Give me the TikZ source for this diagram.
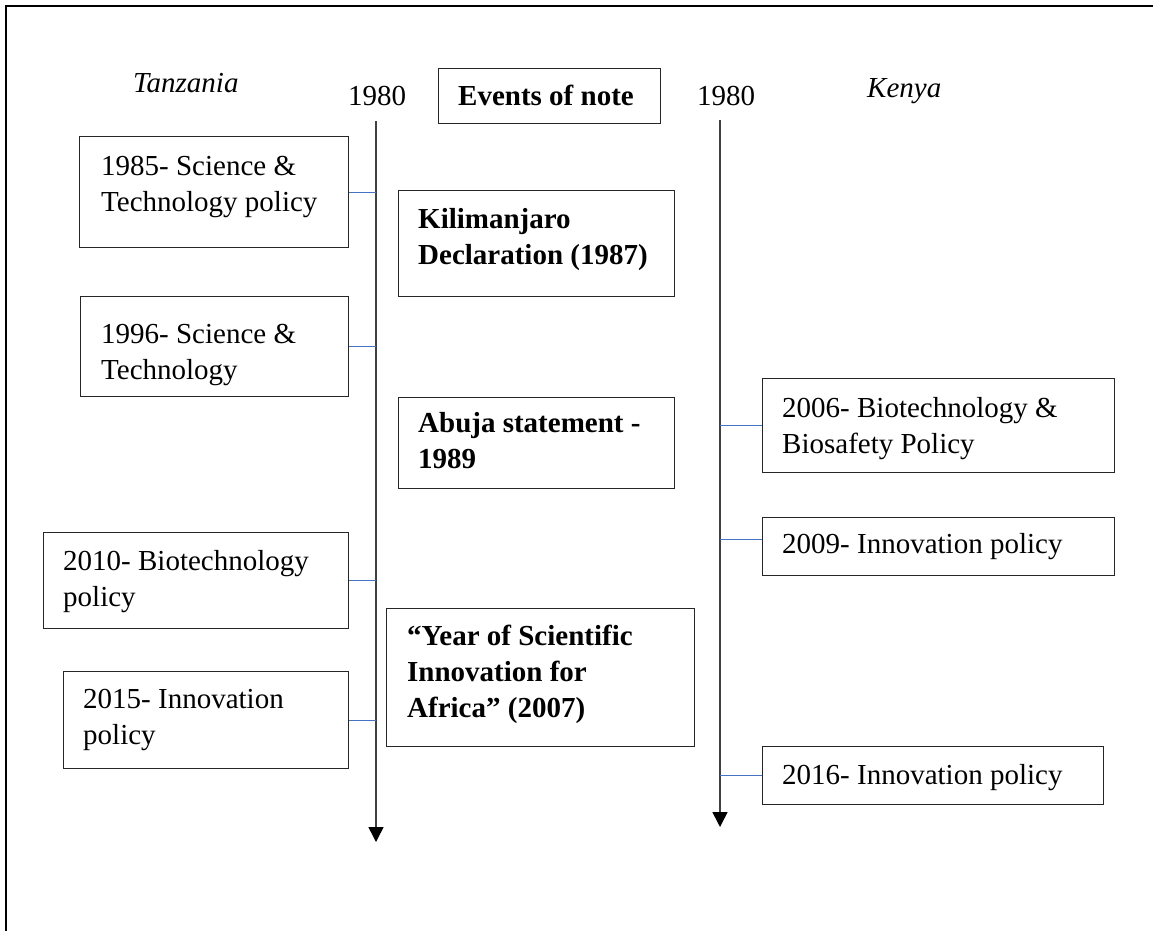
\documentclass[tikz,border=0pt]{standalone}
\usepackage{fontspec}
\setmainfont{Liberation Serif}
\usetikzlibrary{arrows.meta}
\definecolor{tickblue}{RGB}{68,114,196}
\definecolor{axisgray}{RGB}{64,64,64}
% multi-line text whose reference point is the first baseline
\newcommand\boxlines[1]{\begin{tabular}[t]{@{}l@{}}#1\end{tabular}}
\begin{document}
\begin{tikzpicture}[x=1pt,y=-1pt,
  every node/.style={font=\fontsize{29}{36}\selectfont, inner sep=0pt},
  evbox/.style={draw=black!85, line width=1.3pt, anchor=north west},
  txt/.style={anchor=base west},
  axis/.style={draw=axisgray, line width=1.5pt,
    -{Triangle[width=15pt,length=15pt,color=black,fill=black]}},
  tick/.style={draw=tickblue, line width=1.2pt}]
\useasboundingbox (0,0) rectangle (1153,930);
% outer frame
\draw[line width=2pt] (5.5,940) -- (5.5,6) -- (1165,6);

% headings
\node[txt, font=\fontsize{29}{36}\selectfont\itshape] (tzlabel) at (133,92) {Tanzania};
\node[txt, font=\fontsize{29}{36}\selectfont\itshape] (kelabel) at (867,97) {Kenya};
\node[txt] (tzyear) at (348,105) {1980};
\node[txt] (keyear) at (697,105) {1980};
\node[evbox, minimum width=222, minimum height=55] (events) at (438,68) {};
\node[txt, font=\fontsize{29}{36}\selectfont\bfseries] (eventsT) at (458,105) {Events of note};

% time axes
\coordinate (tztop) at (376,121);
\coordinate (tzend) at (376,842);
\coordinate (ketop) at (720,120);
\coordinate (keend) at (720,827);
\draw[axis] (tztop) -- (tzend);
\draw[axis] (ketop) -- (keend);

% Tanzania policies
\node[evbox, minimum width=269, minimum height=111] (b85) at (79,136) {};
\node[txt] (b85T) at (101,175) {\boxlines{1985- Science \&\\Technology policy}};
\node[evbox, minimum width=268, minimum height=100] (b96) at (80,296) {};
\node[txt] (b96T) at (101,343) {\boxlines{1996- Science \&\\Technology}};
\node[evbox, minimum width=305, minimum height=96] (b10) at (43,532) {};
\node[txt] (b10T) at (63,570) {\boxlines{2010- Biotechnology\\policy}};
\node[evbox, minimum width=285, minimum height=97] (b15) at (63,671) {};
\node[txt] (b15T) at (83,708) {\boxlines{2015- Innovation\\policy}};

% events of note
\node[evbox, minimum width=276, minimum height=106] (kili) at (398,190) {};
\node[txt, font=\fontsize{29}{36}\selectfont\bfseries] (kiliT) at (418,228) {\boxlines{Kilimanjaro\\Declaration (1987)}};
\node[evbox, minimum width=276, minimum height=91] (abuja) at (398,397) {};
\node[txt, font=\fontsize{29}{36}\selectfont\bfseries] (abujaT) at (418,432) {\boxlines{Abuja statement -\\1989}};
\node[evbox, minimum width=308, minimum height=138] (year) at (386,608) {};
\node[txt, font=\fontsize{29}{36}\selectfont\bfseries] (yearT) at (407,645) {\boxlines{“Year of Scientific\\Innovation for\\Africa” (2007)}};

% Kenya policies
\node[evbox, minimum width=352, minimum height=94] (k06) at (762,378) {};
\node[txt] (k06T) at (782,417) {\boxlines{2006- Biotechnology \&\\Biosafety Policy}};
\node[evbox, minimum width=352, minimum height=58] (k09) at (762,517) {};
\node[txt] (k09T) at (782,553) {2009- Innovation policy};
\node[evbox, minimum width=341, minimum height=58] (k16) at (762,746) {};
\node[txt] (k16T) at (782,784) {2016- Innovation policy};

% ticks joining each policy to its axis
\draw[tick] (b85.east) -- (b85.east -| tztop);
\draw[tick] (b96.east) -- (b96.east -| tztop);
\draw[tick] (b10.east) -- (b10.east -| tztop);
\draw[tick] (b15.east) -- (b15.east -| tztop);
\draw[tick] (k06.west) -- (k06.west -| ketop);
\draw[tick] ([yshift=7pt]k09.west) -- ([yshift=7pt]k09.west -| ketop);
\draw[tick] (k16.west) -- (k16.west -| ketop);
\end{tikzpicture}
\end{document}
